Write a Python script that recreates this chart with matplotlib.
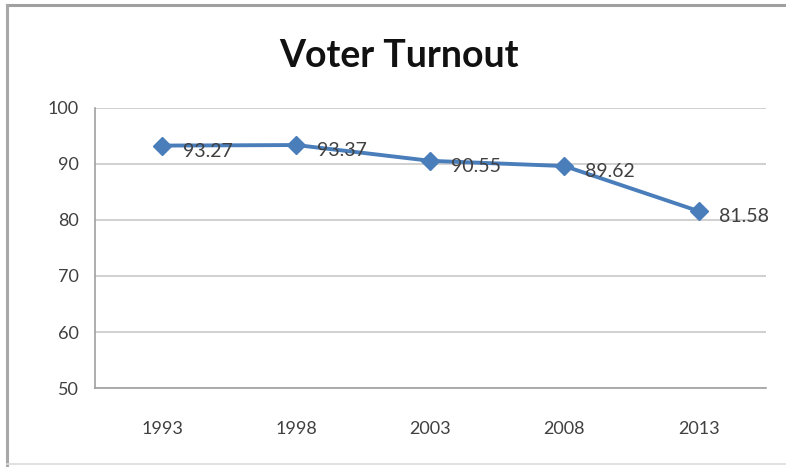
import matplotlib
matplotlib.use("Agg")
import matplotlib.pyplot as plt
from matplotlib.lines import Line2D

plt.rcParams['font.family'] = ['Lato', 'DejaVu Sans']

years = ["1993", "1998", "2003", "2008", "2013"]
turnout = [93.27, 93.37, 90.55, 89.62, 81.58]
labels = ["93.27", "93.37", "90.55", "89.62", "81.58"]
y_ticks = [50, 60, 70, 80, 90, 100]

fig = plt.figure(figsize=(7.86, 4.67), dpi=100)
ax = fig.add_axes([0.121, 0.169, 0.853, 0.600])

# chart border: top and left darker, bottom faint, no right edge
tf = fig.transFigure
fig.lines.append(Line2D([0.009, 1.0], [0.989, 0.989], transform=tf, color="#a0a0a0", linewidth=2.2))
fig.lines.append(Line2D([0.009, 0.009], [0.004, 0.989], transform=tf, color="#a8a8a8", linewidth=2.2))
fig.lines.append(Line2D([0.009, 1.0], [0.006, 0.006], transform=tf, color="#dcdcdc", linewidth=1.2))

x = list(range(len(years)))
ax.plot(x, turnout, color="#4a7ebb", linewidth=2.8, marker="D", markersize=9,
        markerfacecolor="#4a7ebb", markeredgecolor="#4a7ebb", zorder=3)

for xi, yi, lab in zip(x, turnout, labels):
    ax.annotate(lab, (xi, yi), xytext=(15, -4), textcoords="offset points",
                ha="left", va="center", fontsize=14, color="#404040", zorder=4)

ax.set_xlim(-0.5, len(years) - 0.5)
ax.set_ylim(50, 100)
ax.set_xticks(x)
ax.set_xticklabels(years)
ax.set_yticks(y_ticks)
ax.tick_params(axis="both", length=0, labelsize=13, labelcolor="#404040")
ax.tick_params(axis="x", pad=24)
ax.tick_params(axis="y", pad=12)
ax.grid(axis="y", color="#c8c8c8", linewidth=1.2)
ax.set_axisbelow(True)
for side in ["top", "right"]:
    ax.spines[side].set_visible(False)
for side in ["left", "bottom"]:
    ax.spines[side].set_color("#a0a0a0")
    ax.spines[side].set_linewidth(1.2)

fig.text(0.508, 0.88, "Voter Turnout", ha="center", va="center",
         fontsize=27, fontweight="bold", color="#111111")

fig.savefig("out.png", dpi=100)
